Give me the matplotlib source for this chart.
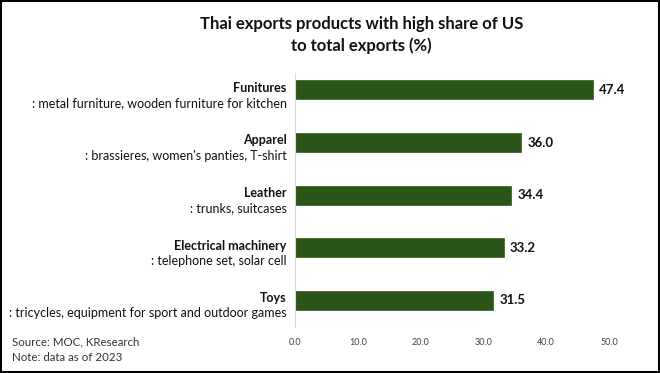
import numpy as np
import matplotlib
matplotlib.use("Agg")
import matplotlib.pyplot as plt
from matplotlib.patches import Rectangle

# data
categories = ["Funitures", "Apparel", "Leather", "Electrical machinery", "Toys"]
details = [": metal furniture, wooden furniture for kitchen",
           ": brassieres, women's panties, T-shirt",
           ": trunks, suitcases",
           ": telephone set, solar cell",
           ": tricycles, equipment for sport and outdoor games"]
shares = [47.4, 36.0, 34.4, 33.2, 31.5]
xticks = [0, 10, 20, 30, 40, 50]

plt.rcParams["font.family"] = ["Lato", "DejaVu Sans"]
green = "#2b5419"

fig = plt.figure(figsize=(6.6, 3.73), dpi=100)
ax = fig.add_axes([0.447, 0.123, 0.476, 0.681])

y = np.arange(len(categories))[::-1]
ax.barh(y, shares, height=0.36, color=green, edgecolor="#3f6b2c", linewidth=0.6)
for yi, v in zip(y, shares):
    ax.text(v + 1.0, yi, "{:.1f}".format(v), va="center", ha="left",
            fontsize=9.5, fontweight="bold", color="#111111")

ax.set_xlim(0, 50)
ax.set_ylim(-0.51, 4.32)
ax.set_xticks(xticks)
ax.set_xticklabels(["{:.1f}".format(t) for t in xticks], fontsize=6.5, color="#444444")
ax.tick_params(axis="x", length=0, pad=8)
ax.set_yticks([])
for s in ["top", "right", "bottom"]:
    ax.spines[s].set_visible(False)
ax.spines["left"].set_color("#d9d9d9")
ax.spines["left"].set_linewidth(0.8)

# two-line category labels to the left of the axis
for yi, name, det in zip(y, categories, details):
    ax.annotate(name, xy=(0, yi), xycoords=("axes fraction", "data"),
                xytext=(-6, 1.5), textcoords="offset points",
                ha="right", va="center", fontsize=9, fontweight="bold", color="#111111")
    ax.annotate(det, xy=(0, yi), xycoords=("axes fraction", "data"),
                xytext=(-6, -9.5), textcoords="offset points",
                ha="right", va="center", fontsize=9, color="#111111")

fig.text(0.548, 0.906, "Thai exports products with high share of US\nto total exports (%)",
         ha="center", va="center", fontsize=12, fontweight="bold",
         color="#111111", linespacing=1.35)

fig.text(0.018, 0.083, "Source: MOC, KResearch", ha="left", va="center",
         fontsize=8.3, color="#333333")
fig.text(0.018, 0.042, "Note: data as of 2023", ha="left", va="center",
         fontsize=8.3, color="#333333")

fig.patches.append(Rectangle((0, 0), 1, 1, transform=fig.transFigure,
                             fill=False, edgecolor="black", linewidth=2.9))

fig.savefig("out.png", dpi=100)
